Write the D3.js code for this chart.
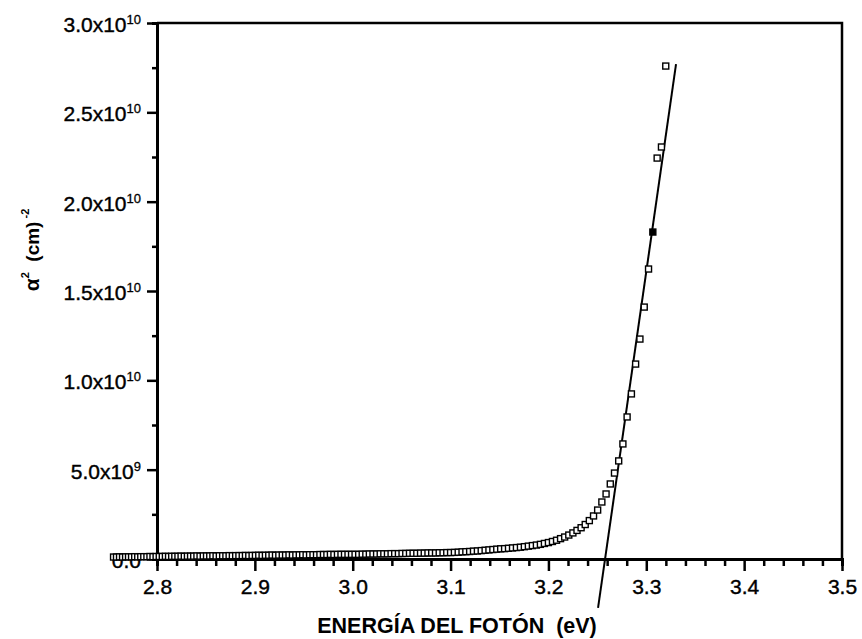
<!DOCTYPE html>
<html>
<head>
<meta charset="utf-8">
<script src="https://cdn.jsdelivr.net/npm/d3@7"></script>
<style>
  body { margin: 0; background: #ffffff; }
  svg { display: block; }
</style>
</head>
<body>
<div id="chart"></div>
<script>
// photon energy (eV)
const photonEnergy = [
  2.7556, 2.7586, 2.7617, 2.7648, 2.7679, 2.7709, 2.7740, 2.7772, 2.7803, 2.7834,
  2.7865, 2.7897, 2.7928, 2.7959, 2.7991, 2.8023, 2.8054, 2.8086, 2.8118, 2.8150,
  2.8182, 2.8214, 2.8246, 2.8279, 2.8311, 2.8343, 2.8375, 2.8408, 2.8440, 2.8473,
  2.8506, 2.8539, 2.8571, 2.8604, 2.8637, 2.8671, 2.8704, 2.8737, 2.8770, 2.8804,
  2.8837, 2.8871, 2.8904, 2.8938, 2.8972, 2.9006, 2.9040, 2.9074, 2.9108, 2.9142,
  2.9176, 2.9211, 2.9245, 2.9280, 2.9314, 2.9349, 2.9384, 2.9419, 2.9454, 2.9489,
  2.9524, 2.9559, 2.9594, 2.9630, 2.9665, 2.9701, 2.9736, 2.9772, 2.9808, 2.9844,
  2.9880, 2.9916, 2.9952, 2.9988, 3.0024, 3.0061, 3.0097, 3.0134, 3.0170, 3.0207,
  3.0244, 3.0281, 3.0318, 3.0355, 3.0392, 3.0429, 3.0467, 3.0504, 3.0542, 3.0580,
  3.0617, 3.0655, 3.0693, 3.0731, 3.0769, 3.0807, 3.0846, 3.0884, 3.0923, 3.0961,
  3.1000, 3.1039, 3.1078, 3.1117, 3.1156, 3.1195, 3.1234, 3.1274, 3.1313, 3.1353,
  3.1392, 3.1432, 3.1472, 3.1512, 3.1552, 3.1592, 3.1633, 3.1673, 3.1714, 3.1754,
  3.1795, 3.1836, 3.1877, 3.1918, 3.1959, 3.2000, 3.2041, 3.2083, 3.2124, 3.2166,
  3.2208, 3.2250, 3.2292, 3.2334, 3.2376, 3.2418, 3.2461, 3.2503, 3.2546, 3.2589,
  3.2632, 3.2675, 3.2718, 3.2761, 3.2804, 3.2848, 3.2891, 3.2935, 3.2979, 3.3023,
  3.3067, 3.3111, 3.3155, 3.3199,
]

// alpha^2 in units of 1e9 cm^-2
const alphaSq = [
  0.11, 0.11, 0.12, 0.11, 0.12, 0.12, 0.12, 0.13, 0.12, 0.13,
  0.13, 0.13, 0.14, 0.13, 0.14, 0.14, 0.14, 0.15, 0.14, 0.15,
  0.15, 0.15, 0.16, 0.15, 0.16, 0.16, 0.16, 0.17, 0.16, 0.17,
  0.17, 0.17, 0.18, 0.17, 0.18, 0.18, 0.18, 0.19, 0.18, 0.19,
  0.19, 0.19, 0.20, 0.19, 0.20, 0.20, 0.21, 0.20, 0.21, 0.21,
  0.22, 0.21, 0.22, 0.22, 0.22, 0.23, 0.22, 0.23, 0.23, 0.24,
  0.23, 0.24, 0.24, 0.24, 0.25, 0.25, 0.25, 0.26, 0.25, 0.26,
  0.26, 0.26, 0.26, 0.26, 0.26, 0.26, 0.27, 0.27, 0.28, 0.28,
  0.28, 0.29, 0.29, 0.29, 0.30, 0.30, 0.30, 0.31, 0.31, 0.32,
  0.32, 0.32, 0.33, 0.33, 0.34, 0.34, 0.34, 0.35, 0.35, 0.36,
  0.36, 0.37, 0.38, 0.40, 0.41, 0.42, 0.44, 0.45, 0.47, 0.49,
  0.51, 0.53, 0.55, 0.57, 0.58, 0.60, 0.62, 0.64, 0.66, 0.69,
  0.72, 0.75, 0.78, 0.82, 0.87, 0.92, 0.98, 1.05, 1.14, 1.23,
  1.34, 1.46, 1.60, 1.75, 1.93, 2.15, 2.41, 2.74, 3.19, 3.64,
  4.20, 4.81, 5.49, 6.44, 7.95, 9.24, 10.91, 12.31, 14.10, 16.23,
  18.30, 22.44, 23.06, 27.59,
]

// the one marker printed solid
const filledEnergy = [3.3067]

// straight-line fit drawn through the edge
const fitEnergy = [3.2507, 3.3304]
const fitAlphaSq = [-2.74, 27.7]

const xTicks = [2.8, 2.9, 3.0, 3.1, 3.2, 3.3, 3.4, 3.5]
const xTickLabels = ['2.8', '2.9', '3.0', '3.1', '3.2', '3.3', '3.4', '3.5']
const yTicks = [0, 5, 10, 15, 20, 25, 30]
const yTickLabels = [
  ['0.0', ''],
  ['5.0x10', '9'],
  ['1.0x10', '10'],
  ['1.5x10', '10'],
  ['2.0x10', '10'],
  ['2.5x10', '10'],
  ['3.0x10', '10'],
]

const W = 862
const H = 639
const FONT = 'Arial, "Liberation Sans", Helvetica, sans-serif'

const x = d3.scaleLinear().domain([2.8, 3.5]).range([157, 842])
const y = d3.scaleLinear().domain([0, 30]).range([559, 23])

const svg = d3.select('#chart').append('svg').attr('width', W).attr('height', H)

svg.append('rect').attr('width', W).attr('height', H).attr('fill', '#ffffff')

// frame: top and right edges
svg
  .append('path')
  .attr('d', `M${x(2.8)},${y(30)}H${x(3.5)}V${y(0)}`)
  .attr('fill', 'none')
  .attr('stroke', '#000')
  .attr('stroke-width', 2.5)

// x axis
const gx = svg.append('g').attr('transform', `translate(0,${y(0)})`)
gx.call(
  d3
    .axisBottom(x)
    .tickValues(xTicks)
    .tickFormat((d, i) => xTickLabels[i])
    .tickSize(12)
    .tickSizeOuter(0)
    .tickPadding(8)
)
gx.append('g').call(
  d3
    .axisBottom(x)
    .tickValues(x.ticks(35).filter((d) => !xTicks.some((t) => Math.abs(t - d) < 1e-6)))
    .tickSize(7)
    .tickFormat('')
)
gx.selectAll('.domain').attr('stroke-width', 3)
gx.select('g .domain').remove()
gx.selectAll('.tick line').attr('stroke-width', 2.5)
gx.selectAll('.tick text')
  .attr('font-family', FONT)
  .attr('font-size', 21)
  .attr('fill', '#000')
  .attr('stroke', '#000')
  .attr('stroke-width', 0.4)

// y axis
const gy = svg.append('g').attr('transform', `translate(${x(2.8)},0)`)
gy.call(d3.axisLeft(y).tickValues(yTicks).tickFormat('').tickSize(10).tickSizeOuter(0).tickPadding(7))
gy.append('g').call(
  d3
    .axisLeft(y)
    .tickValues([2.5, 7.5, 12.5, 17.5, 22.5, 27.5])
    .tickSize(5)
    .tickFormat('')
)
gy.selectAll('.domain').attr('stroke-width', 3)
gy.select('g .domain').remove()
gy.selectAll('.tick line').attr('stroke-width', 2.5)

gy.selectAll('.tick')
  .filter((d) => yTicks.includes(d))
  .each(function (d) {
    const [base, exp] = yTickLabels[yTicks.indexOf(d)]
    const t = d3
      .select(this)
      .append('text')
      .attr('x', -16)
      .attr('dy', '0.4em')
      .attr('text-anchor', 'end')
      .attr('font-family', FONT)
      .attr('font-size', 21)
      .attr('fill', '#000')
      .attr('stroke', '#000')
      .attr('stroke-width', 0.4)
      .text(base)
    if (exp) {
      t.append('tspan').attr('dy', '-0.6em').attr('font-size', 13).attr('stroke-width', 0.3).text(exp)
    }
  })

// axis titles
svg
  .append('text')
  .attr('x', 457)
  .attr('y', 633)
  .attr('text-anchor', 'middle')
  .attr('font-family', FONT)
  .attr('font-size', 21.5)
  .attr('font-weight', 'bold')
  .style('white-space', 'pre')
  .text('ENERGÍA DEL FOTÓN  (eV)')

const yTitle = svg
  .append('text')
  .attr('transform', 'translate(39,250) rotate(-90)')
  .attr('text-anchor', 'middle')
  .attr('font-family', FONT)
  .attr('font-size', 19)
  .attr('font-weight', 'bold')
  .style('white-space', 'pre')
yTitle.append('tspan').attr('font-size', 21).text('α')
yTitle.append('tspan').attr('dy', -10).attr('font-size', 11).text('2')
yTitle.append('tspan').attr('dy', 10).text('  (cm)')
yTitle.append('tspan').attr('dy', -10).attr('font-size', 11).text(' -2')

// fitted line
svg
  .append('line')
  .attr('x1', x(fitEnergy[0]))
  .attr('y1', y(fitAlphaSq[0]))
  .attr('x2', x(fitEnergy[1]))
  .attr('y2', y(fitAlphaSq[1]))
  .attr('stroke', '#000')
  .attr('stroke-width', 2)

// data markers
const S = 6
svg
  .append('g')
  .selectAll('rect')
  .data(photonEnergy.map((e, i) => ({ e, a: alphaSq[i] })))
  .join('rect')
  .attr('x', (d) => x(d.e) - S / 2)
  .attr('y', (d) => y(d.a) - S / 2)
  .attr('width', S)
  .attr('height', S)
  .attr('fill', (d) => (filledEnergy.includes(d.e) ? '#000' : '#fff'))
  .attr('stroke', '#000')
  .attr('stroke-width', 1.4)
</script>
</body>
</html>
